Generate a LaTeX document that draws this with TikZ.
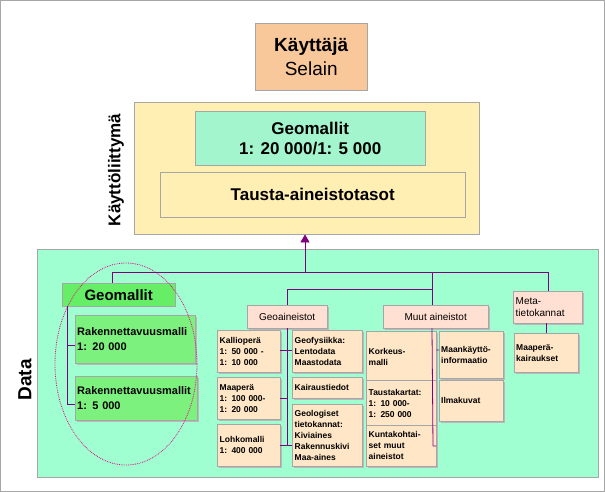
\documentclass[tikz,border=0pt]{standalone}
\usepackage{fontspec}
\setmainfont{Liberation Sans}
\usetikzlibrary{positioning,shadows,arrows.meta}
\definecolor{orangebox}{HTML}{F9C89A}
\definecolor{uiyellow}{HTML}{FFEFB3}
\definecolor{mint}{HTML}{A3F5CD}
\definecolor{datamint}{HTML}{9FFFD0}
\definecolor{geogreen}{HTML}{66EE66}
\definecolor{pinkbox}{HTML}{FFE0D2}
\definecolor{bisque}{HTML}{FFE6C6}
\definecolor{linepurple}{HTML}{800080}

\begin{document}
\begin{tikzpicture}[x=1pt,y=-1pt,
  box/.style={draw=gray!70,anchor=north west,inner sep=0pt},
  shad/.style={drop shadow={shadow xshift=2pt,shadow yshift=-2pt,fill=gray!55,opacity=1}},
  small/.style={box,shad,fill=bisque,align=left,font=\fontsize{8.5}{11}\selectfont\bfseries},
  head/.style={box,shad,fill=pinkbox,font=\fontsize{10}{12}\selectfont},
  branch/.style={draw=linepurple,line width=0.8pt}]

  \useasboundingbox (0,0) rectangle (605,492);
  \draw[gray!70,line width=1pt] (0.5,0.5) rectangle (604.5,491.5);

  % kayttaja ja kayttoliittyma
  \node[box,fill=orangebox,minimum width=112pt,minimum height=67pt,align=center,
        font=\fontsize{19}{24}\selectfont] (user) at (255,23) {\textbf{Käyttäjä}\\Selain};
  \node[box,fill=uiyellow,minimum width=345pt,minimum height=132pt] (ui) at (134,102) {};
  \node[box,fill=mint,minimum width=230pt,minimum height=54pt,align=center,
        font=\fontsize{17}{20}\selectfont\bfseries] (geoui) at (195,111) {Geomallit\\1: 20 000/1: 5 000};
  \node[box,fill=uiyellow,minimum width=305pt,minimum height=45pt,
        font=\fontsize{17}{20}\selectfont\bfseries] (tausta) at (160,172) {Tausta-aineistotasot};
  \node[rotate=90,font=\fontsize{17}{20}\selectfont\bfseries] (uilabel) at (116,170) {Käyttöliittymä};

  % data
  \node[box,fill=datamint,minimum width=561pt,minimum height=228pt] (data) at (37,249) {};
  \node[rotate=90,font=\fontsize{19}{22}\selectfont\bfseries] (datalabel) at (25,380) {Data};
  \coordinate (top) at (305,272);
  \draw[branch,-{Triangle[width=9pt,length=8pt]}] (top) -- (ui.south -| top);

  % geomallit
  \node[box,fill=geogreen,minimum width=113pt,minimum height=23pt,font=\fontsize{15}{18}\selectfont\bfseries] (geom) at (62,283) {Geomallit};
  \node[box,shad,fill=geogreen!85!white,minimum width=120pt,minimum height=48pt,align=left,
        text width=116pt,font=\fontsize{11}{15}\selectfont\bfseries] (rak1) at (75,315) {Rakennettavuusmalli\\1: 20 000};
  \node[box,shad,fill=geogreen!85!white,minimum width=122pt,minimum height=44pt,align=left,
        text width=118pt,font=\fontsize{11}{15}\selectfont\bfseries] (rak2) at (75,376) {Rakennettavuusmallit\\1: 5 000};
  \draw[magenta,densely dotted,line width=0.8pt] (126,364) ellipse (71pt and 101pt);

  % otsikot
  \node[head,minimum width=80pt,minimum height=23pt] (geoa) at (247,305) {Geoaineistot};
  \node[head,minimum width=105pt,minimum height=23pt] (muut) at (383,305) {Muut aineistot};
  \node[head,minimum width=69pt,minimum height=32pt,align=left,text width=64pt] (meta) at (513,291) {Meta-\\tietokannat};

  % geoaineistot
  \node[small,minimum width=63pt,minimum height=42pt,text width=58pt] (kallio) at (217,330) {Kallioperä\\1: 50 000 -\\1: 10 000};
  \node[small,minimum width=63pt,minimum height=42pt,text width=58pt] (maap) at (217,377) {Maaperä\\1: 100 000-\\1: 20 000};
  \node[small,minimum width=63pt,minimum height=42pt,text width=58pt] (lohko) at (217,424) {Lohkomalli\\1: 400 000};
  \node[small,minimum width=70pt,minimum height=42pt,text width=65pt] (geof) at (292,330) {Geofysiikka:\\Lentodata\\Maastodata};
  \node[small,minimum width=70pt,minimum height=21pt,text width=65pt] (kair) at (292,377) {Kairaustiedot};
  \node[small,minimum width=70pt,minimum height=62pt,text width=65pt] (geol) at (292,404) {Geologiset\\tietokannat:\\Kiviaines\\Rakennuskivi\\Maa-aines};

  % muut aineistot
  \node[small,minimum width=70pt,minimum height=51pt,text width=65pt] (kork) at (366,331) {Korkeus-\\malli};
  \node[small,minimum width=70pt,minimum height=46pt,text width=65pt] (tausk) at (366,380) {Taustakartat:\\1: 10 000-\\1: 250 000};
  \node[small,minimum width=70pt,minimum height=41pt,text width=65pt] (kunta) at (366,425) {Kuntakohtai-\\set muut\\aineistot};
  \node[small,minimum width=64pt,minimum height=47pt,text width=60pt] (maank) at (439,331) {Maankäyttö-\\informaatio};
  \node[small,minimum width=64pt,minimum height=41pt,text width=60pt] (ilma) at (439,380) {Ilmakuvat};

  % meta
  \node[small,minimum width=64pt,minimum height=39pt,text width=60pt] (kairm) at (514,333) {Maaperä-\\kairaukset};

  % yhteydet
  \coordinate (lft) at (112,272);
  \coordinate (rgt) at (548,272);
  \coordinate (mid) at (287,289);
  \coordinate (mr) at (432,289);
  \draw[branch] (lft) -- (rgt) (lft) -- (lft |- geom.north) (rgt) -- (meta.north -| rgt)
    (meta.south -| kairm) -- (kairm.north);
  \draw[branch] (mid) -- (mr) (mid) -- (geoa.north -| mid) (mr |- top) -- (muut.north -| mr);
  \draw[branch] (67,306) -- (67,404) (67,345) -- (rak1.west |- 0,345) (67,404) -- (rak2.west |- 0,404);
  \draw[branch] (geoa.south -| mid) -- (287,445)
    (kallio.east |- 0,350) -- (geof.west |- 0,350)
    (maap.east |- 0,398) -- (mid |- 0,398)
    (lohko.east |- 0,445) -- (geol.west |- 0,445);
  \draw[branch] (muut.south -| mr) -- (433,446)
    (kork.east |- 0,350) -- (maank.west |- 0,350)
    (kunta.east |- 0,446) -- (433,446);
\end{tikzpicture}
\end{document}
